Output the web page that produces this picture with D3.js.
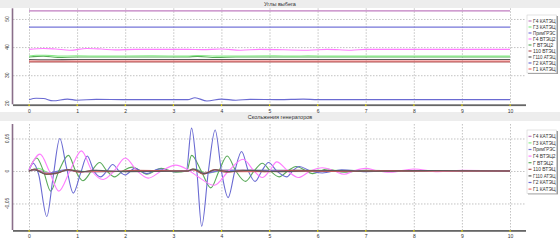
<!DOCTYPE html>
<html>
<head>
<meta charset="utf-8">
<script src="https://cdn.jsdelivr.net/npm/d3@7"></script>
<style>
body { margin: 0; background: #fff; }
text { font-family: "Liberation Sans", "DejaVu Sans", sans-serif; fill: #333; }
</style>
</head>
<body>
<div id="viz"></div>
<script>

// series names and colours (legend order)
var seriesNames = ["Г4 КАТЭЦ", "Г3 КАТЭЦ", "ПримГРЭС", "Г4 ВТЭЦ2", "Г ВТЭЦ2", "110 ВТЭЦ", "Г110 АТЭЦ", "Г2 КАТЭЦ", "Г1 КАТЭЦ"];
var seriesColors = ["#c07cc0", "#86ec86", "#7474d8", "#ff7cff", "#5aaa5a", "#b05454", "#5a5a5a", "#6a6ad2", "#f07070"];

var timeTicks = [0, 1, 2, 3, 4, 5, 6, 7, 8, 9, 10];
var angleTicks = [20, 30, 40, 50];
var slipTicks = [-0.05, 0, 0.05];
var slipTickLabels = ["-0,05", "0", "0,05"];

// --- angles, deg: [t, value]
var angleG4KATEC = [[0, 52.9], [10, 52.9]];
var angleG3KATEC = [[0, 36.8], [0.15, 37.1], [0.35, 37.1], [0.6, 36.8], [1.0, 36.9], [1.5, 36.8], [2.5, 36.9], [3.3, 36.8], [3.5, 37.0], [3.9, 36.8], [5.1, 36.9], [5.5, 36.8], [5.8, 36.9], [6.3, 36.8], [10, 36.8]];
var anglePrimGRES = [[0, 47.1], [10, 47.1]];
var angleG4VTEC2 = [[0, 39.2], [0.3, 39.5], [0.55, 39.3], [0.85, 38.9], [1.2, 39.5], [1.5, 39.3], [1.8, 39.0], [2.2, 39.2], [3.3, 39.2], [3.6, 39.1], [4.0, 39.3], [4.4, 38.9], [4.8, 39.2], [5.8, 38.9], [6.2, 39.2], [6.7, 38.9], [7.0, 39.2], [10, 39.2]];
var angleGVTEC2 = [[0, 36.5], [0.3, 36.8], [0.6, 36.3], [1.0, 36.5], [3.3, 36.5], [3.5, 36.7], [3.9, 36.3], [4.3, 36.5], [10, 36.5]];
var angle110VTEC = [[0, 34.7], [10, 34.7]];
var angleG110ATEC = [[0, 35.6], [0.4, 35.5], [1.0, 35.6], [10, 35.6]];
var angleG2KATEC = [[0, 21.3], [0.15, 21.8], [0.3, 21.7], [0.5, 20.9], [0.8, 21.5], [1.0, 21.1], [1.4, 21.4], [2.0, 21.3], [3.3, 21.3], [3.45, 22.0], [3.7, 20.8], [4.0, 21.5], [4.3, 21.1], [4.6, 21.4], [5.2, 21.3], [5.7, 21.5], [6.0, 21.3], [10, 21.3]];
var angleG1KATEC = [[0, 35.0], [10, 35.0]];

// --- slips, p.u.: [t, value]
var slipG4KATEC = [[0, 0], [0.15, 0.002], [0.4, -0.003], [0.8, 0.001], [1.2, -0.001], [3.3, 0], [3.45, 0.002], [3.65, -0.003], [4.0, 0.001], [10, 0]];
var slipG3KATEC = [[0, 0], [0.2, 0.004], [0.45, -0.004], [0.8, 0.002], [1.2, -0.001], [3.3, 0], [3.45, 0.003], [3.7, -0.003], [4.1, 0.001], [10, 0]];
var slipPrimGRES = [[0, 0], [0.12, 0.002], [0.38, -0.004], [0.75, 0.002], [1.1, -0.001], [3.3, 0], [3.42, 0.002], [3.65, -0.004], [4.0, 0.001], [10, 0]];
var slipG4VTEC2 = [[0, 0.002], [0.23, 0.026], [0.42, 0], [0.62, -0.031], [0.85, 0], [1.09, 0.031], [1.31, 0], [1.54, -0.013], [1.77, 0], [2.0, 0.02], [2.25, 0], [2.48, -0.011], [2.75, 0], [3.05, 0.009], [3.3, 0.002], [3.5, -0.008], [3.85, -0.022], [4.15, 0], [4.45, 0.018], [4.68, 0], [4.85, -0.01], [5.0, 0], [5.15, 0.014], [5.38, 0], [5.6, -0.01], [5.85, 0], [6.1, 0.005], [6.35, 0], [6.55, -0.005], [6.75, 0], [7.0, 0.004], [7.25, 0], [7.5, -0.002], [8.0, 0.003], [8.5, -0.001], [9.0, 0.001], [10, 0]];
var slipGVTEC2 = [[0, 0.002], [0.16, 0.02], [0.3, 0], [0.45, -0.031], [0.62, 0], [0.82, 0.024], [0.97, 0], [1.12, -0.015], [1.3, 0], [1.47, 0.013], [1.62, 0], [1.78, -0.009], [1.95, 0], [2.15, 0.006], [2.45, -0.005], [2.75, 0.004], [3.05, -0.002], [3.28, 0], [3.38, 0.024], [3.58, 0], [3.78, -0.026], [3.95, 0], [4.12, 0.023], [4.3, 0], [4.5, -0.016], [4.68, 0], [4.85, 0.012], [5.02, 0], [5.2, -0.009], [5.38, 0], [5.55, 0.007], [5.9, -0.004], [6.2, 0.003], [6.55, -0.002], [7.0, 0.001], [8, 0], [10, 0]];
var slip110VTEC = [[0, 0], [0.12, 0.003], [0.35, -0.005], [0.55, -0.004], [0.8, 0.002], [1.05, -0.002], [1.35, 0.001], [1.7, -0.001], [2.2, 0.001], [3.3, 0], [3.4, 0.003], [3.62, -0.005], [3.85, 0.002], [4.1, -0.002], [4.45, 0.001], [4.9, -0.001], [5.5, 0.001], [6.5, -0.0005], [7.5, 0.0005], [10, 0]];
var slipG110ATEC = [[0, 0], [0.1, 0.002], [0.36, -0.005], [0.58, -0.003], [0.82, 0.002], [1.1, -0.001], [1.4, 0.001], [2.0, -0.001], [3.3, 0], [3.42, 0.003], [3.64, -0.004], [3.88, 0.002], [4.15, -0.001], [4.6, 0.001], [5.2, -0.001], [6.3, 0.0008], [7.2, -0.0005], [8.3, 0.0005], [10, 0]];
var slipG2KATEC = [[0, 0.001], [0.09, 0.012], [0.2, -0.005], [0.37, -0.07], [0.5, -0.01], [0.64, 0.05], [0.78, 0.005], [0.92, -0.034], [1.07, -0.004], [1.21, 0.023], [1.35, 0], [1.49, -0.009], [1.62, 0], [1.74, 0.01], [1.87, 0], [2.0, -0.006], [2.2, 0.004], [2.45, -0.004], [2.7, 0.003], [3.0, -0.001], [3.27, 0], [3.38, 0.066], [3.49, 0], [3.59, -0.085], [3.73, 0], [3.87, 0.063], [4.0, 0], [4.14, -0.041], [4.28, 0], [4.42, 0.03], [4.56, 0], [4.7, -0.016], [4.84, 0], [4.98, 0.013], [5.15, 0], [5.36, -0.009], [5.48, 0], [5.62, 0.007], [5.85, 0], [6.1, -0.003], [6.5, 0.002], [7.0, -0.001], [7.5, 0], [10, 0]];
var slipG1KATEC = [[0, 0], [0.12, 0.002], [0.35, -0.004], [0.6, -0.003], [0.8, 0.002], [1.1, -0.001], [3.3, 0], [3.4, 0.002], [3.62, -0.004], [3.86, 0.002], [4.2, -0.001], [10, 0]];

var angleSeries = [angleG4KATEC, angleG3KATEC, anglePrimGRES, angleG4VTEC2, angleGVTEC2, angle110VTEC, angleG110ATEC, angleG2KATEC, angleG1KATEC];
var slipSeries = [slipG4KATEC, slipG3KATEC, slipPrimGRES, slipG4VTEC2, slipGVTEC2, slip110VTEC, slipG110ATEC, slipG2KATEC, slipG1KATEC];
// which series goes on top (indices into seriesNames, drawn in this order)
var angleOrder = [8, 5, 6, 4, 1, 3, 2, 7, 0];
var slipOrder = [1, 0, 2, 4, 7, 3, 8, 5, 6];

var W = 560, H = 240;
var svg = d3.select("#viz").append("svg")
    .attr("width", W).attr("height", H);

var x = d3.scaleLinear().domain([0, 10]).range([29, 510]);
var plotL = 13, plotR = 526;

function titleBar(y0, h, label) {
    svg.append("rect").attr("x", 0).attr("y", y0).attr("width", W).attr("height", h)
        .attr("fill", "#ededed");
    svg.append("text").attr("x", 280).attr("y", y0 + h / 2 + 2)
        .attr("text-anchor", "middle").style("font-size", "5.5px").text(label);
}

function panel(opt) {
    var y = opt.y;
    var top = y.range()[1], bottom = y.range()[0];
    var g = svg.append("g");

    // grid
    g.selectAll("line.hg").data(opt.ticks.filter(function(d){ return y(d) < bottom - 2; }))
        .enter().append("line")
        .attr("x1", plotL).attr("x2", plotR)
        .attr("y1", function(d){ return y(d) + 0.5; }).attr("y2", function(d){ return y(d) + 0.5; })
        .attr("stroke", "#b4b4b4").attr("stroke-width", 0.8).attr("stroke-dasharray", "1.5,1.5");
    g.selectAll("line.vg").data(timeTicks).enter().append("line")
        .attr("x1", function(d){ return x(d) + 0.5; }).attr("x2", function(d){ return x(d) + 0.5; })
        .attr("y1", top).attr("y2", bottom)
        .attr("stroke", "#b4b4b4").attr("stroke-width", 0.8).attr("stroke-dasharray", "1.5,1.5");

    // lines
    var line = d3.line()
        .x(function(d){ return x(d[0]); })
        .y(function(d){ return y(d[1]); })
        .curve(d3.curveMonotoneX);
    opt.order.forEach(function(i) {
        g.append("path").attr("d", line(opt.series[i]))
            .attr("fill", "none").attr("stroke", seriesColors[i]).attr("stroke-width", 1.1);
    });

    // left axis
    g.append("line").attr("x1", plotL - 0.5).attr("x2", plotL - 0.5).attr("y1", top).attr("y2", bottom)
        .attr("stroke", "#8a6e8a").attr("stroke-width", 1.6);
    g.selectAll("text.yl").data(opt.ticks).enter().append("text")
        .attr("transform", function(d){ return "translate(9," + y(d) + ") rotate(-90)"; })
        .attr("text-anchor", "middle").style("font-size", "5px")
        .text(function(d, i){ return opt.labels[i]; });

    // bottom axis
    g.append("rect").attr("x", plotL).attr("y", bottom).attr("width", plotR - plotL).attr("height", 1.8)
        .attr("fill", "#666");
    var ax = g.append("g").attr("transform", "translate(0," + (bottom + 1.8) + ")")
        .call(d3.axisBottom(x).tickValues(timeTicks).tickSize(0).tickPadding(3).tickFormat(d3.format("d")));
    ax.select(".domain").remove();
    ax.selectAll("text").style("font-size", "5px").attr("fill", "#333")
        .style("font-family", "'Liberation Sans', sans-serif");
    g.selectAll("rect.tk").data(timeTicks).enter().append("rect")
        .attr("x", function(d){ return x(d) - 0.5; }).attr("y", bottom).attr("width", 1.2).attr("height", 1.8)
        .attr("fill", "#e8d800");

    // legend
    var lx = 527, ly = opt.legendTop, step = opt.legendStep;
    var lh = step * seriesNames.length + 4;
    g.append("rect").attr("x", lx + 1).attr("y", ly + 1).attr("width", 30).attr("height", lh)
        .attr("fill", "#9a9a9a");
    g.append("rect").attr("x", lx).attr("y", ly).attr("width", 29.5).attr("height", lh)
        .attr("fill", "#fff").attr("stroke", "#c8c8c8").attr("stroke-width", 0.5);
    var item = g.selectAll("g.li").data(seriesNames).enter().append("g")
        .attr("transform", function(d, i){ return "translate(" + lx + "," + (ly + 3 + step * i + step / 2) + ")"; });
    item.append("line").attr("x1", 1.5).attr("x2", 4.5).attr("y1", 0).attr("y2", 0)
        .attr("stroke", function(d, i){ return seriesColors[i]; }).attr("stroke-width", 1.2);
    item.append("text").attr("x", 6).attr("y", 1.8).style("font-size", "5px")
        .text(function(d){ return d; })
        .each(function() {
            if (this.getComputedTextLength() > 22.5) {
                d3.select(this).attr("textLength", 22.5).attr("lengthAdjust", "spacingAndGlyphs");
            }
        });
}

titleBar(0, 8, "Углы выбега");
titleBar(112, 9, "Скольжения генераторов");

panel({
    y: d3.scaleLinear().domain([19.65, 53.8]).range([104.3, 8.3]),
    ticks: angleTicks,
    labels: angleTicks.map(String),
    series: angleSeries,
    order: angleOrder,
    legendTop: 15,
    legendStep: 6
});

panel({
    y: d3.scaleLinear().domain([-0.0908, 0.0723]).range([230, 124]),
    ticks: slipTicks,
    labels: slipTickLabels,
    series: slipSeries,
    order: slipOrder,
    legendTop: 130,
    legendStep: 6.6
});

</script>
</body>
</html>
